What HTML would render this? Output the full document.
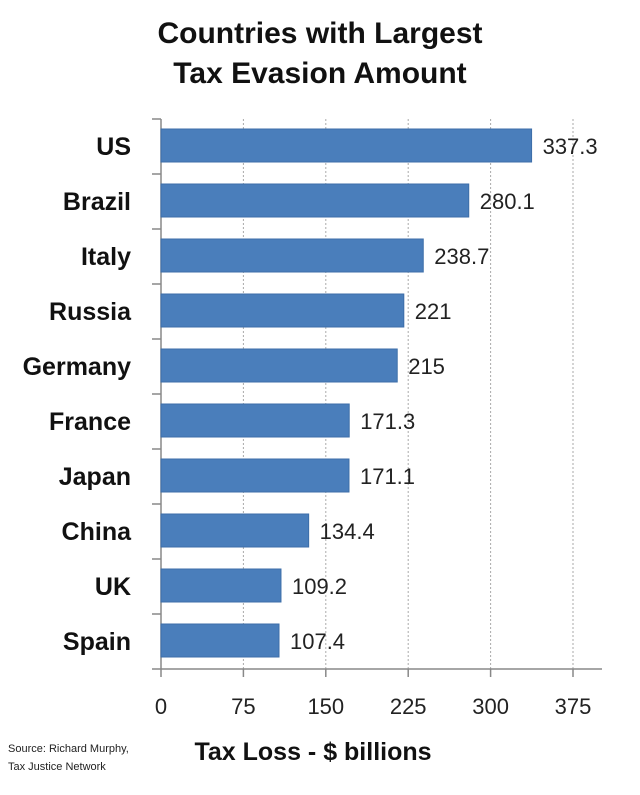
<!DOCTYPE html>
<html><head><meta charset="utf-8"><style>
body{margin:0;background:#fff;}
svg text{font-family:"Liberation Sans",sans-serif;}
</style></head><body>
<svg width="640" height="790" xmlns="http://www.w3.org/2000/svg">
<text x="320" y="43" text-anchor="middle" font-size="30" font-weight="bold" fill="#111">Countries with Largest</text>
<text x="320" y="83" text-anchor="middle" font-size="30" font-weight="bold" fill="#111">Tax Evasion Amount</text>
<g id="plot"></g>
<text x="8" y="752" font-size="11" fill="#222">Source: Richard Murphy,</text>
<text x="8" y="770" font-size="11" fill="#222">Tax Justice  Network</text>
<text x="313" y="760" text-anchor="middle" font-size="25" font-weight="bold" fill="#111">Tax Loss - $ billions</text>
</svg>
<script>
const categories=["US","Brazil","Italy","Russia","Germany","France","Japan","China","UK","Spain"];
const values=[337.3,280.1,238.7,221,215,171.3,171.1,134.4,109.2,107.4];
const labels=["337.3","280.1","238.7","221","215","171.3","171.1","134.4","109.2","107.4"];
const ticks=[0,75,150,225,300,375];
const NS="http://www.w3.org/2000/svg";
const g=document.getElementById('plot');
const X0=161,X375=573,TOP=119,BOT=669,RIGHT=602;
const x=v=>X0+(v/375)*(X375-X0);
const band=(BOT-TOP)/categories.length;
const y=i=>TOP+i*band;
function mk(t,a){const e=document.createElementNS(NS,t);for(const k in a)e.setAttribute(k,a[k]);g.appendChild(e);return e;}
ticks.forEach((t,i)=>{
 if(i>0){const l=mk('line',{x1:x(t),x2:x(t),y1:TOP,y2:BOT,stroke:'#aaa','stroke-dasharray':'2,2'});
 
 }
 const tk=mk('line',{x1:x(t),x2:x(t),y1:BOT,y2:BOT+8,stroke:'#888','stroke-width':1.5});
 
 
 const tx=mk('text',{x:x(t),y:714,'text-anchor':'middle','font-size':22,fill:'#222'});
 tx.textContent=t;
 
 
});
const ax=mk('line',{x1:X0,x2:RIGHT,y1:BOT,y2:BOT,stroke:'#888','stroke-width':1.5});


const ay=mk('line',{x1:X0,x2:X0,y1:TOP,y2:BOT,stroke:'#888','stroke-width':1.5});


for(let i=0;i<=categories.length;i++){
 const t=mk('line',{x1:X0-9,x2:X0,y1:y(i),y2:y(i),stroke:'#888','stroke-width':1.5});
 
 
}
categories.forEach((c,i)=>{
 const b=mk('rect',{x:X0,y:y(i)+10,width:x(values[i])-X0,height:33,fill:'#4a7ebb',stroke:'#3d6ea8','stroke-width':1});
 
 
 const l=mk('text',{x:131,y:y(i)+36,'text-anchor':'end','font-size':25,'font-weight':'bold',fill:'#111'});
 l.textContent=c;
 
 
 const v=mk('text',{x:x(values[i])+11,y:y(i)+35,'font-size':22,fill:'#222'});
 v.textContent=labels[i];
 
 
});
</script>
</body></html>
